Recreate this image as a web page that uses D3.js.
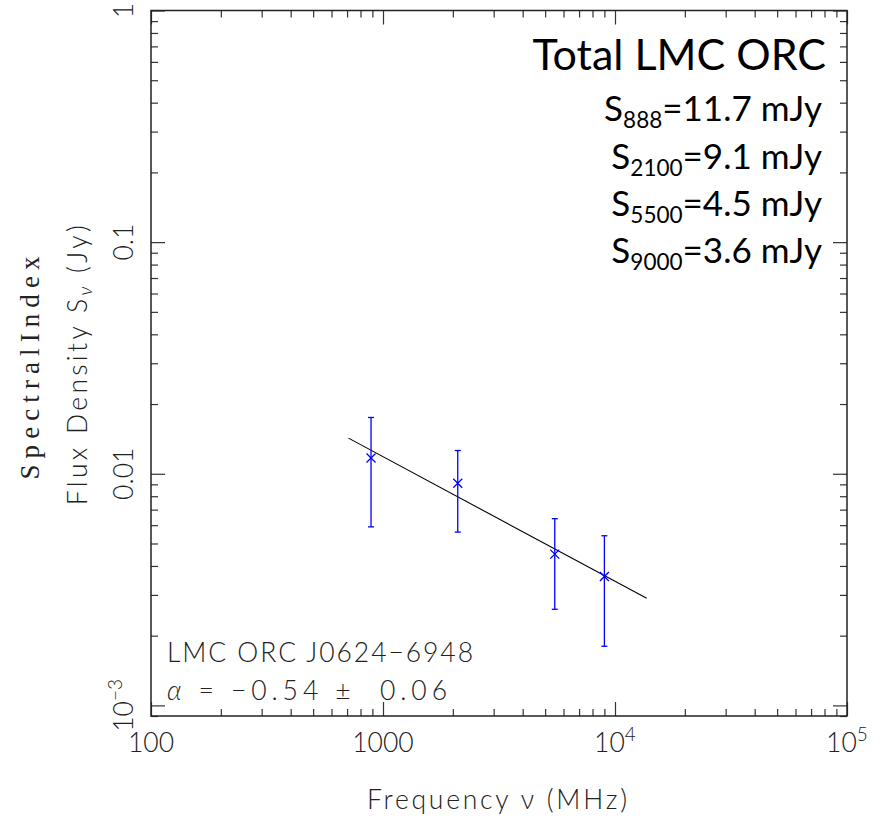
<!DOCTYPE html>
<html>
<head>
<meta charset="utf-8">
<script src="https://cdn.jsdelivr.net/npm/d3@7"></script>
<style>
  html, body { margin: 0; padding: 0; background: #fff; }
  svg { display: block; }
  .pg { font-family: Lato, "Open Sans", sans-serif; font-weight: 300; fill: #222; }
  .cal { font-family: Lato, "Open Sans", sans-serif; font-weight: 400; fill: #000; }
</style>
</head>
<body>
<svg id="chart" width="892" height="818"></svg>
<script>
// ---------------- data ----------------
const FREQ_MHZ = [888, 2100, 5500, 9000];
const FLUX_MJY = [11.7, 9.1, 4.5, 3.6];
const ERR_MJY = [5.8, 3.5, 1.9, 1.8];
const FIT_NU = [710, 13700];
const FIT_MJY = [14.25, 2.90];
const X_TICKS = [100, 1000, 10000, 100000];
const X_TICK_BASE = ["100", "1000", "10", "10"];
const X_TICK_EXP = ["", "", "4", "5"];
const Y_TICKS = [0.001, 0.01, 0.1, 1];
const Y_TICK_BASE = ["10", "0.01", "0.1", "1"];
const Y_TICK_EXP = ["−3", "", "", ""];
const TITLE = "Total LMC ORC";
const SOURCE_NAME = "LMC ORC J0624−6948";
const ALPHA_VALUE = " = −0.54 ±  0.06";

// ---------------- layout ----------------
const svg = d3.select("#chart");
const L = 151, R = 847, T = 10.5, B = 716;
const x = d3.scaleLog().domain([100, 100000]).range([L, R]);
const y = d3.scaleLog().domain([0.0009, 1]).range([B, T]);
const FS = 26.5;

function minorTicks(scale) {
  const [a, b] = scale.domain();
  const out = [];
  for (let e = Math.floor(Math.log10(a)); e < Math.ceil(Math.log10(b)); e++) {
    for (let m = 2; m <= 9; m++) {
      const v = m * Math.pow(10, e);
      if (v >= a * 0.999 && v <= b * 1.001) out.push(v);
    }
  }
  return out;
}
const xMinor = minorTicks(x);
const yMinor = minorTicks(y);
const MAJ = 14, MIN = 7;

function tickAxis(axisGen, scale, vals, len, tr) {
  const g = svg.append("g").attr("transform", tr)
    .call(axisGen(scale).tickValues(vals).tickSizeInner(len).tickSizeOuter(0).tickFormat(() => ""));
  g.select(".domain").remove();
  g.selectAll(".tick line").attr("stroke", "#333").attr("stroke-width", 1.2);
  return g;
}
tickAxis(d3.axisBottom, x, X_TICKS, -MAJ, `translate(0,${B})`);
tickAxis(d3.axisBottom, x, xMinor, -MIN, `translate(0,${B})`);
tickAxis(d3.axisTop, x, X_TICKS, -MAJ, `translate(0,${T})`);
tickAxis(d3.axisTop, x, xMinor, -MIN, `translate(0,${T})`);
tickAxis(d3.axisLeft, y, Y_TICKS, -MAJ, `translate(${L},0)`);
tickAxis(d3.axisLeft, y, yMinor, -MIN, `translate(${L},0)`);
tickAxis(d3.axisRight, y, Y_TICKS, -MAJ, `translate(${R},0)`);
tickAxis(d3.axisRight, y, yMinor, -MIN, `translate(${R},0)`);

svg.append("rect").attr("x", L).attr("y", T).attr("width", R - L).attr("height", B - T)
  .attr("fill", "none").attr("stroke", "#222").attr("stroke-width", 1.5);

// x tick labels
X_TICKS.forEach((v, i) => {
  const t = svg.append("text").attr("class", "pg").attr("x", x(v)).attr("y", 752)
    .attr("text-anchor", "middle").attr("font-size", FS);
  t.append("tspan").text(X_TICK_BASE[i]);
  if (X_TICK_EXP[i]) t.append("tspan").attr("dy", -11).attr("font-size", 19).text(X_TICK_EXP[i]);
});
// y tick labels (rotated)
Y_TICKS.forEach((v, i) => {
  const t = svg.append("text").attr("class", "pg")
    .attr("transform", `translate(133,${y(v)}) rotate(-90)`)
    .attr("text-anchor", "middle").attr("font-size", FS);
  t.append("tspan").text(Y_TICK_BASE[i]);
  if (Y_TICK_EXP[i]) t.append("tspan").attr("dy", -11).attr("font-size", 19).text(Y_TICK_EXP[i]);
});

// axis titles
svg.append("text").attr("class", "pg").attr("x", 497).attr("y", 809)
  .attr("text-anchor", "middle").attr("font-size", FS)
  .attr("textLength", 260).attr("lengthAdjust", "spacing")
  .text("Frequency ν (MHz)");

const yt = svg.append("text").attr("class", "pg")
  .attr("transform", `translate(87,${(T + B) / 2 + 2}) rotate(-90)`)
  .attr("text-anchor", "middle").attr("font-size", FS)
  .attr("textLength", 280).attr("lengthAdjust", "spacing");
yt.append("tspan").text("Flux Density S");
yt.append("tspan").attr("dy", 5).attr("font-size", 19).attr("font-style", "italic").text("ν");
yt.append("tspan").attr("dy", -5).text(" (Jy)");

svg.append("text")
  .attr("transform", `translate(39,368) rotate(-90)`)
  .attr("text-anchor", "middle")
  .attr("font-family", "'Liberation Serif', 'Times New Roman', serif").attr("font-size", 27).attr("fill", "#222")
  .attr("textLength", 223).attr("lengthAdjust", "spacing")
  .text("SpectralIndex");

// fit line
const fit = FIT_NU.map((n, i) => [n, FIT_MJY[i] / 1000]);
svg.append("path").datum(fit)
  .attr("d", d3.line().x(d => x(d[0])).y(d => y(d[1])))
  .attr("fill", "none").attr("stroke", "#000").attr("stroke-width", 1.1);

// data points with error bars
const pts = FREQ_MHZ.map((f, i) => ({ f, s: FLUX_MJY[i] / 1000, e: ERR_MJY[i] / 1000 }));
const gp = svg.append("g").attr("stroke", "#0000ff").attr("stroke-width", 1.3).attr("fill", "none");
const cap = 3, ms = 4.5;
pts.forEach(p => {
  const cx = x(p.f), yt0 = y(p.s + p.e), yb0 = y(p.s - p.e), cy = y(p.s);
  gp.append("line").attr("x1", cx).attr("x2", cx).attr("y1", yt0).attr("y2", yb0);
  gp.append("line").attr("x1", cx - cap).attr("x2", cx + cap).attr("y1", yt0).attr("y2", yt0);
  gp.append("line").attr("x1", cx - cap).attr("x2", cx + cap).attr("y1", yb0).attr("y2", yb0);
  gp.append("path").attr("d", `M${cx - ms},${cy - ms}L${cx + ms},${cy + ms}M${cx - ms},${cy + ms}L${cx + ms},${cy - ms}`);
});

// annotations bottom-left
svg.append("text").attr("class", "pg").attr("x", 167).attr("y", 662).attr("font-size", FS)
  .attr("textLength", 306).attr("lengthAdjust", "spacing").text(SOURCE_NAME);
const at = svg.append("text").attr("class", "pg").attr("x", 167).attr("y", 700).attr("font-size", FS)
  .attr("textLength", 280).attr("lengthAdjust", "spacing")
  .attr("xml:space", "preserve").style("white-space", "pre");
at.append("tspan").attr("font-style", "italic").text("α");
at.append("tspan").text(ALPHA_VALUE);

// top-right summary
svg.append("text").attr("class", "cal").attr("x", 826).attr("y", 70)
  .attr("text-anchor", "end").attr("font-size", 43).text(TITLE);
const baselines = [121, 169, 216, 263];
FREQ_MHZ.forEach((f, i) => {
  const t = svg.append("text").attr("class", "cal").attr("x", 822).attr("y", baselines[i])
    .attr("text-anchor", "end").attr("font-size", 35);
  t.append("tspan").text("S");
  t.append("tspan").attr("dy", 7).attr("font-size", 22.5).text(String(f));
  t.append("tspan").attr("dy", -7).text("=" + FLUX_MJY[i].toFixed(1) + " mJy");
});
</script>
</body>
</html>
